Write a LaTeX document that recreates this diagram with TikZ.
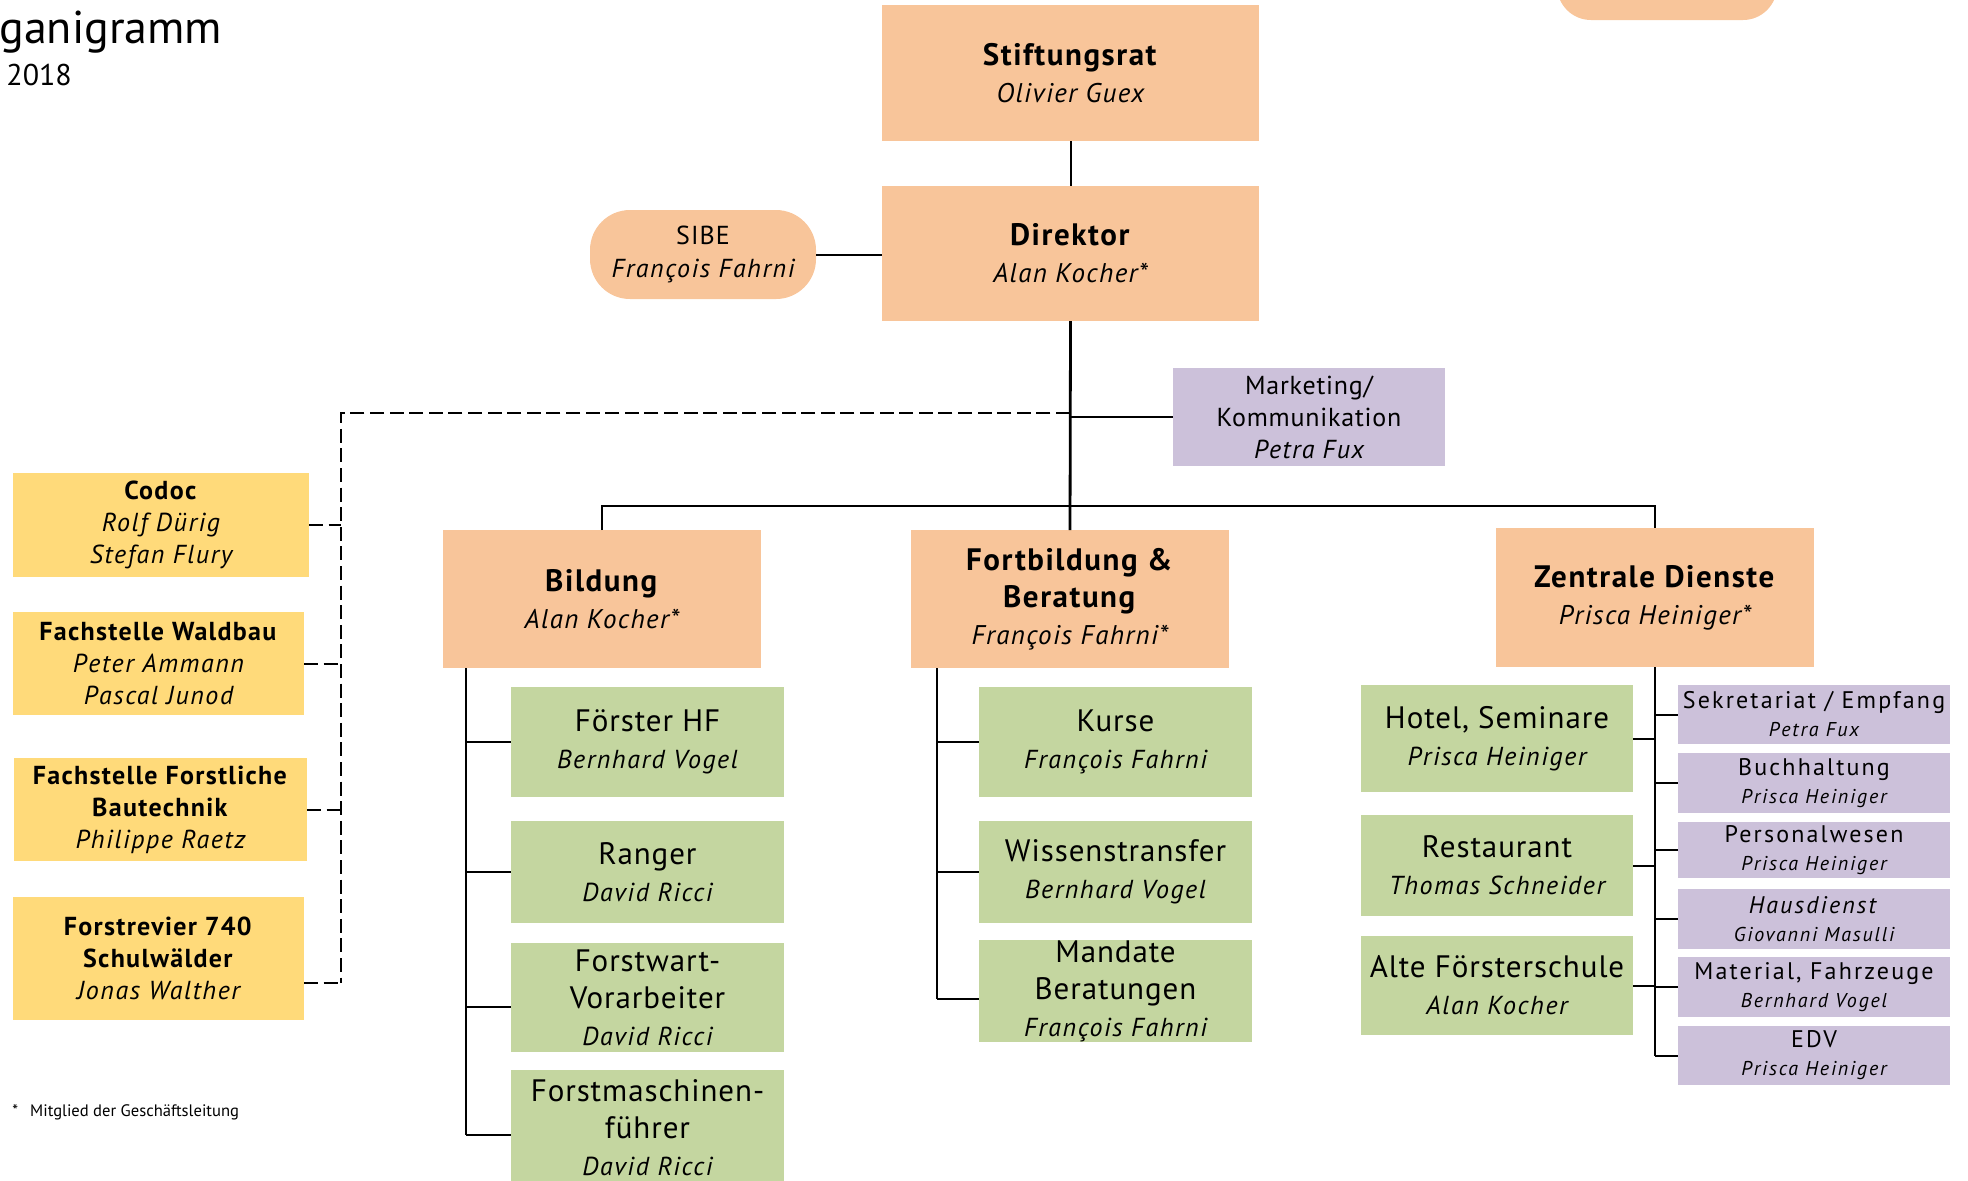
\documentclass[tikz,border=0pt]{standalone}
\usepackage{fontspec}
\setmainfont{PT Sans}
\usetikzlibrary{calc}
\definecolor{orangeF}{HTML}{F8C59A}
\definecolor{yellowF}{HTML}{FFDA7A}
\definecolor{greenF}{HTML}{C4D6A0}
\definecolor{purpleF}{HTML}{CCC1DA}
\newcommand\lsp[1]{\addfontfeatures{LetterSpace=#1}}
\newcommand\orgname[1]{{\fontsize{13.5}{18.5}\selectfont\itshape\lsp{5}#1}}
\newcommand\grnname[1]{{\fontsize{13}{18.5}\selectfont\itshape\lsp{6}#1}}
\newcommand\purname[1]{{\fontsize{10}{14}\selectfont\itshape\lsp{9}#1}}
\newcommand\ylwname[1]{{\itshape\lsp{6}#1}}
\begin{document}
\begin{tikzpicture}[x=0.5pt,y=-0.5pt,
  base/.style={inner sep=0pt, outer sep=0pt, align=center, text=black},
  obox/.style={base, fill=orangeF, font=\fontsize{15.5}{18.5}\selectfont\lsp{5}},
  ybox/.style={base, fill=yellowF, font=\fontsize{13}{16}\selectfont\lsp{5}},
  gbox/.style={base, fill=greenF, font=\fontsize{15.5}{18.5}\selectfont\lsp{3}, minimum width=136.5pt},
  pbox/.style={base, fill=purpleF, font=\fontsize{12}{14}\selectfont\lsp{9}, minimum width=136pt},
  conn/.style={line width=1pt, black},
  trunk/.style={line width=1.4pt, black},
  dashline/.style={line width=1pt, black, dash pattern=on 7pt off 2.8pt}
]
\useasboundingbox (0,0) rectangle (1968,1180);

% title
\node[anchor=base west, inner sep=0pt, font=\fontsize{23}{23}\selectfont] (title) at (-1,43) {ganigramm};
\node[anchor=base west, inner sep=0pt, font=\fontsize{15}{15}\selectfont] (year) at (6,85) {2018};

% top level
\node[base, fill=orangeF, minimum width=110pt, minimum height=45pt, rounded corners=17pt] (topr) at (1667,-25) {};
\node[obox, minimum width=188.5pt, minimum height=68pt] (stift) at (1070.5,73) {\textbf{Stiftungsrat}\\\orgname{Olivier Guex}};
\node[obox, minimum width=188.5pt, minimum height=67.5pt] (dir) at (1070.5,253.5) {\textbf{Direktor}\\\orgname{Alan Kocher*}};
\node[base, fill=orangeF, minimum width=113pt, minimum height=44.5pt, rounded corners=20pt, font=\fontsize{13}{16.5}\selectfont\lsp{4}] (sibe) at (703,254.5) {SIBE\\{\itshape\lsp{6}François Fahrni}};
\node[base, fill=purpleF, minimum width=136pt, minimum height=49pt, font=\fontsize{13}{16}\selectfont\lsp{3}] (mkt) at (1309,417) {Marketing/\\Kommunikation\\{\itshape\lsp{5}Petra Fux}};

% yellow staff
\node[ybox, minimum width=148pt, minimum height=52pt] (codoc) at (161,525) {\textbf{Codoc}\\\ylwname{Rolf Dürig}\\\ylwname{Stefan Flury}};
\node[ybox, minimum width=145.5pt, minimum height=51.5pt] (waldbau) at (158.5,663.5) {\textbf{Fachstelle Waldbau}\\\ylwname{Peter Ammann}\\\ylwname{Pascal Junod}};
\node[ybox, minimum width=146.5pt, minimum height=51.5pt] (bautech) at (160.5,809.5) {\textbf{Fachstelle Forstliche}\\\textbf{Bautechnik}\\\ylwname{Philippe Raetz}};
\node[ybox, minimum width=145.5pt, minimum height=61.5pt] (forstrev) at (158.5,958.5) {\textbf{Forstrevier 740}\\\textbf{Schulwälder}\\\ylwname{Jonas Walther}};

% departments
\node[obox, minimum width=159pt, minimum height=69pt] (bild) at (602,599) {\textbf{Bildung}\\\orgname{Alan Kocher*}};
\node[obox, minimum width=159pt, minimum height=69pt] (fortb) at (1070,599) {\textbf{Fortbildung \&}\\\textbf{Beratung}\\\orgname{François Fahrni*}};
\node[obox, minimum width=159pt, minimum height=69.5pt] (zd) at (1655,597.5) {\textbf{Zentrale Dienste}\\\orgname{Prisca Heiniger*}};

% Bildung children
\node[gbox, minimum height=55pt] (foe) at (647.5,742) {Förster HF\\\grnname{Bernhard Vogel}};
\node[gbox, minimum height=51pt] (ranger) at (647.5,872) {Ranger\\\grnname{David Ricci}};
\node[gbox, minimum height=54.5pt] (fw) at (647.5,997.5) {Forstwart-\\Vorarbeiter\\\grnname{David Ricci}};
\node[gbox, minimum height=58pt] (fm) at (647.5,1128) {Forstmaschinen-\\führer\\\grnname{David Ricci}};

% Fortbildung children
\node[gbox, minimum height=55pt] (kurse) at (1115.5,742) {Kurse\\\grnname{François Fahrni}};
\node[gbox, minimum height=51pt] (wiss) at (1115.5,872) {Wissenstransfer\\\grnname{Bernhard Vogel}};
\node[gbox, minimum height=51pt] (mand) at (1115.5,991) {Mandate\\Beratungen\\\grnname{François Fahrni}};

% Zentrale Dienste children (green)
\node[gbox, minimum width=136pt, minimum height=53.5pt] (hotel) at (1497,738.5) {Hotel, Seminare\\\grnname{Prisca Heiniger}};
\node[gbox, minimum width=136pt, minimum height=50.5pt] (rest) at (1497,865.5) {Restaurant\\\grnname{Thomas Schneider}};
\node[gbox, minimum width=136pt, minimum height=49.5pt] (alte) at (1497,985.5) {Alte Försterschule\\\grnname{Alan Kocher}};

% Zentrale Dienste children (purple)
\node[pbox, minimum height=29.5pt] (sek) at (1814,714.5) {Sekretariat / Empfang\\\purname{Petra Fux}};
\node[pbox, minimum height=30pt] (buch) at (1814,783) {Buchhaltung\\\purname{Prisca Heiniger}};
\node[pbox, minimum height=28pt] (pers) at (1814,850) {Personalwesen\\\purname{Prisca Heiniger}};
\node[pbox, minimum height=30pt] (haus) at (1814,919) {\textit{Hausdienst}\\\purname{Giovanni Masulli}};
\node[pbox, minimum height=30pt] (mat) at (1814,987) {Material, Fahrzeuge\\\purname{Bernhard Vogel}};
\node[pbox, minimum height=29.5pt] (edv) at (1814,1055.5) {EDV\\\purname{Prisca Heiniger}};

% footnote
\node[anchor=west, inner sep=0pt, font=\fontsize{8.3}{10}\selectfont] (note) at (12,1112) {*\hspace{6pt}Mitglied der Geschäftsleitung};

% connectors
\coordinate (hb) at (1070,506);
\coordinate (dt) at (1070,413);
\coordinate (dl) at (341,413);
\coordinate (fre) at ($(forstrev.north east)!0.7!(forstrev.south east)$);
\coordinate (db) at (fre -| dl);
\coordinate (bv) at (466,668);
\coordinate (fv) at (937,668);
\coordinate (fwt) at ([yshift=-4.75pt]fw.west);
\coordinate (fmt) at ([yshift=-3.5pt]fm.west);
\coordinate (mat2) at ([yshift=-4pt]mand.west);

\draw[conn] (stift.south) -- (dir.north);
\draw[conn] (sibe.east) -- (sibe.east -| dir.west);
\draw[trunk] (dir.south) -- (fortb.north);
\draw[conn] (dir.south |- mkt.west) -- (mkt.west);
\draw[conn] (bild.north) -- (bild.north |- hb) -- (zd.north |- hb) -- (zd.north);

\draw[dashline] (dt) -- (dl) -- (db);
\draw[dashline] (codoc.east) -- (codoc.east -| dl);
\draw[dashline] (waldbau.east) -- (waldbau.east -| dl);
\draw[dashline] (bautech.east) -- (bautech.east -| dl);
\draw[dashline] (fre) -- (db);

\draw[conn] (bv) -- (bv |- fmt);
\foreach \n in {foe.west,ranger.west,fwt,fmt} \draw[conn] (bv |- \n) -- (\n);
\draw[conn] (fv) -- (fv |- mat2);
\foreach \n in {kurse.west,wiss.west,mat2} \draw[conn] (fv |- \n) -- (\n);
\draw[conn] (zd.south) -- (zd.south |- edv.west);
\foreach \n in {hotel,rest,alte} \draw[conn] (\n.east) -- (\n.east -| zd.south);
\foreach \n in {sek,buch,pers,haus,mat,edv} \draw[conn] (zd.south |- \n.west) -- (\n.west);
\end{tikzpicture}
\end{document}
